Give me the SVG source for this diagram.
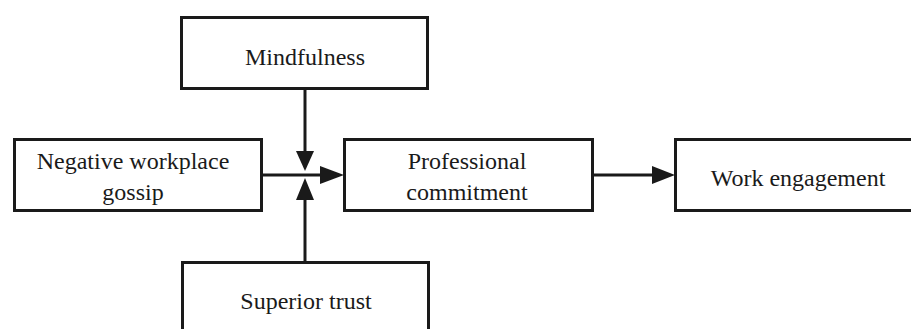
<svg xmlns="http://www.w3.org/2000/svg" width="911" height="329" viewBox="0 0 911 329">
<defs>
<style>
.box{fill:#fff;stroke:#1a1a1a;stroke-width:3}
.lbl{font-family:"Liberation Serif","Times New Roman",serif;font-size:24px;fill:#1a1a1a;text-anchor:middle}
.edge{stroke:#1a1a1a;stroke-width:3;fill:none}
.head{fill:#1a1a1a}
</style>
</defs>
<rect width="911" height="329" fill="#fff"/>
<g id="mindfulness"><rect class="box" x="181.5" y="17.5" width="246" height="71"/><text class="lbl" x="305" y="65">Mindfulness</text></g>
<g id="gossip"><rect class="box" x="14.5" y="139.5" width="247" height="71"/><text class="lbl" x="133" y="169">Negative workplace</text><text class="lbl" x="133" y="200">gossip</text></g>
<g id="commitment"><rect class="box" x="344.5" y="139.5" width="248" height="71"/><text class="lbl" x="467" y="169">Professional</text><text class="lbl" x="467" y="200">commitment</text></g>
<g id="engagement"><rect class="box" x="675.5" y="139.5" width="245" height="71"/><text class="lbl" x="798" y="186">Work engagement</text></g>
<g id="trust"><rect class="box" x="182.5" y="262.5" width="246" height="80"/><text class="lbl" x="306" y="309">Superior trust</text></g>
<g id="connectors">
<line class="edge" x1="305" y1="89" x2="305" y2="152"/>
<polygon class="head" points="296,151 314,151 305,171"/>
<line class="edge" x1="305" y1="261" x2="305" y2="198"/>
<polygon class="head" points="296,200 314,200 305,178"/>
<line class="edge" x1="262" y1="175" x2="322" y2="175"/>
<polygon class="head" points="320,166 320,184 344,175"/>
<line class="edge" x1="593" y1="175" x2="654" y2="175"/>
<polygon class="head" points="652,166 652,184 675,175"/>
</g>
</svg>
